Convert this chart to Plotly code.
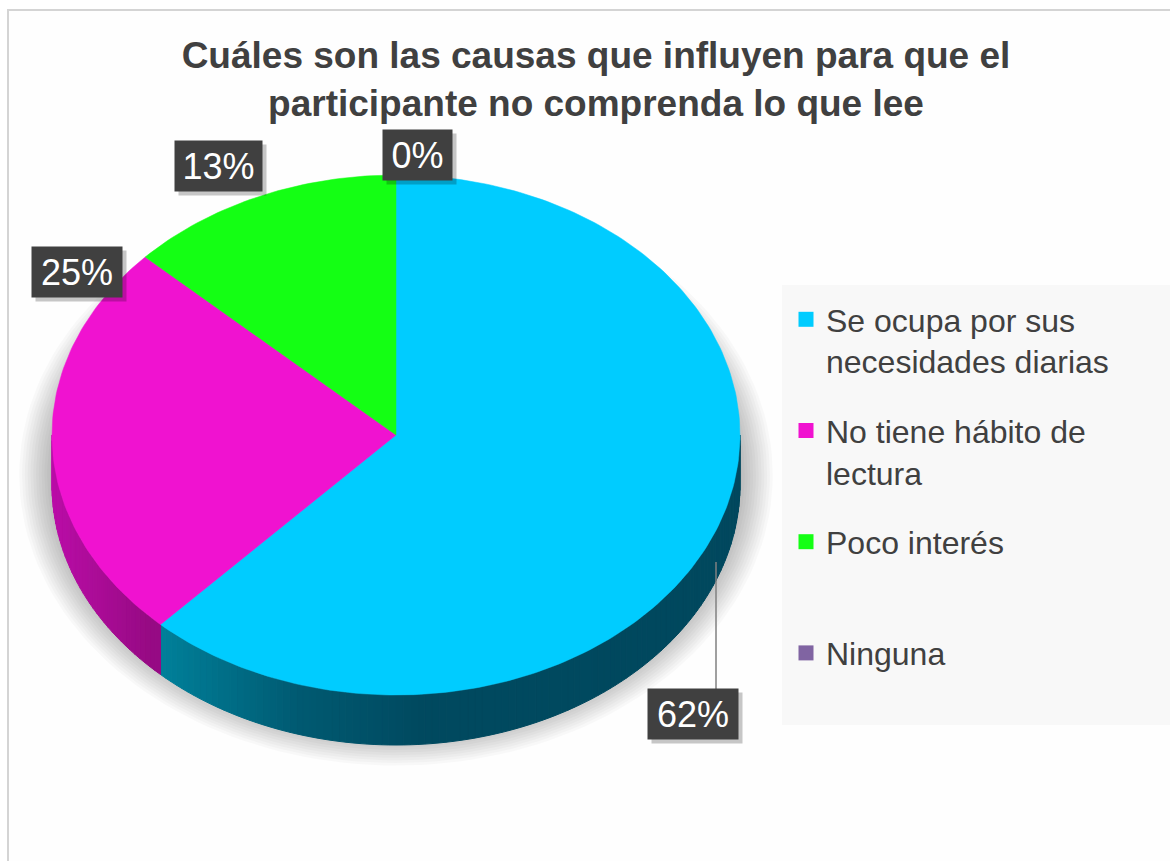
import numpy as np
import plotly.graph_objects as go

# ---------------- data ----------------
categories = ["Se ocupa por sus necesidades diarias", "No tiene hábito de lectura",
              "Poco interés", "Ninguna"]
legend_text = ["Se ocupa por sus<br>necesidades diarias", "No tiene hábito de<br>lectura",
               "Poco interés<br>&nbsp;", "Ninguna"]
values = [62, 25, 13, 0]
pct_labels = ["62%", "25%", "13%", "0%"]

# ---------------- styles / layout constants ----------------
top_colors = ["#00CCFF", "#F012D0", "#14FF14", "#8064A2"]
# side shading stops (pixel x -> rgb)
side_stops = [
    ([148, 300, 420, 760], [(0, 132, 158), (0, 90, 114), (0, 74, 96), (0, 72, 94)]),
    ([40, 100, 150], [(190, 14, 172), (170, 12, 150), (150, 10, 132)]),
    ([0, 1200], [(10, 170, 10), (10, 150, 10)]),
    ([0, 1200], [(90, 70, 115), (80, 60, 100)]),
]
label_x = [693, 77, 218, 417]
label_y = [714, 272, 166, 155]
label_w = [90, 90, 87, 69]
label_h = 50

W, H = 1170, 861
CX, CY, RX, RY, T = 396, 435, 344, 260, 50


def pt(th, dy=0.0):
    return CX + RX * np.sin(th), CY - RY * np.cos(th) + dy


fig = go.Figure()

# chart-area frame
fig.add_shape(type="rect", x0=8, y0=10, x1=W + 20, y1=H + 20, xref="x", yref="y",
              line=dict(color="#d4d4d4", width=2), fillcolor="#fefefe", layer="below")
# legend background
fig.add_shape(type="rect", x0=782, y0=285, x1=W + 20, y1=725, xref="x", yref="y",
              line=dict(width=0), fillcolor="#f8f8f8", layer="below")

# soft shadow
for k in range(12):
    t = np.linspace(0, 2 * np.pi, 181)
    fig.add_trace(go.Scatter(
        x=CX + (RX + 2 + k * 2.8) * np.sin(t),
        y=CY + T - 10 + (RY + 2 + k * 2.6) * np.cos(t),
        mode="lines", fill="toself", line=dict(width=0),
        fillcolor="rgba(0,0,0,0.024)", hoverinfo="skip", showlegend=False))

# angles
total = float(sum(values))
cum = np.cumsum([0] + values) / total * 2 * np.pi
starts, ends = cum[:-1], cum[1:]

# side walls (front half only: pi/2 .. 3pi/2)
for i, v in enumerate(values):
    if v <= 0:
        continue
    a0, a1 = max(starts[i], np.pi / 2), min(ends[i], 3 * np.pi / 2)
    if a1 <= a0:
        continue
    nseg = max(6, int((a1 - a0) / (np.pi / 150)))
    edges = np.linspace(a0, a1, nseg + 1)
    xs_stop, cols = side_stops[i]
    for j in range(nseg):
        tt = np.linspace(edges[j], edges[j + 1], 3)
        xt, yt = pt(tt)
        xb, yb = pt(tt[::-1], T)
        xm = pt((edges[j] + edges[j + 1]) / 2)[0]
        rgb = [int(np.interp(xm, xs_stop, [c[ch] for c in cols])) for ch in range(3)]
        col = "rgb(%d,%d,%d)" % tuple(rgb)
        fig.add_trace(go.Scatter(
            x=np.concatenate([xt, xb, xt[:1]]), y=np.concatenate([yt, yb, yt[:1]]),
            mode="lines", fill="toself", fillcolor=col, line=dict(color=col, width=1),
            hoverinfo="skip", showlegend=False))

# top surfaces
for i, v in enumerate(values):
    if v <= 0:
        continue
    n = max(3, int((ends[i] - starts[i]) / (2 * np.pi) * 360))
    tt = np.linspace(starts[i], ends[i], n)
    xa, ya = pt(tt)
    fig.add_trace(go.Scatter(
        x=np.concatenate([[CX], xa, [CX]]), y=np.concatenate([[CY], ya, [CY]]),
        mode="lines", fill="toself", fillcolor=top_colors[i],
        line=dict(color=top_colors[i], width=0.5),
        name=categories[i], hoverinfo="skip", showlegend=False))

# legend entries
for i, name in enumerate(legend_text):
    fig.add_trace(go.Scatter(
        x=[None], y=[None], mode="markers", name=name, legendgroup=str(i),
        marker=dict(symbol="square", size=15, color=top_colors[i]), showlegend=True))

# leader line for the big slice
fig.add_shape(type="line", x0=716, y0=562, x1=716, y1=689, xref="x", yref="y",
              line=dict(color="#808080", width=1.5))

# data labels (dark boxes with white text)
for i in range(len(values)):
    fig.add_annotation(x=label_x[i] + 4, y=label_y[i] + 4, xref="x", yref="y",
                       text=" ", showarrow=False, width=label_w[i] - 2, height=label_h - 2,
                       bgcolor="rgba(0,0,0,0.22)", borderpad=1, font=dict(size=10))
    fig.add_annotation(x=label_x[i], y=label_y[i], xref="x", yref="y",
                       text=pct_labels[i], showarrow=False,
                       width=label_w[i] - 2, height=label_h - 2, borderpad=1,
                       bgcolor="#404040",
                       font=dict(family="Liberation Sans, Arial", size=36, color="white"))

fig.update_layout(
    width=W, height=H,
    margin=dict(l=0, r=0, t=0, b=0, pad=0),
    paper_bgcolor="white", plot_bgcolor="white",
    title=dict(text="<b>Cuáles son las causas que influyen para que el<br>participante no comprenda lo que lee</b>",
               x=596 / W, xanchor="center", y=1 - 68 / H, yanchor="middle",
               font=dict(family="Liberation Sans, Arial", size=37, color="#404040")),
    xaxis=dict(range=[0, W], visible=False, fixedrange=True),
    yaxis=dict(range=[H, 0], visible=False, fixedrange=True),
    showlegend=True,
    legend=dict(x=786 / W, xanchor="left", y=1 - 292 / H, yanchor="top",
                bgcolor="rgba(0,0,0,0)", traceorder="grouped", tracegroupgap=25,
                valign="top",
                font=dict(family="Liberation Sans, Arial", size=32, color="#404040")),
    hovermode=False,
)

fig.write_html("out.html", config={"displayModeBar": False},
               post_script="document.body.style.margin='0';")
